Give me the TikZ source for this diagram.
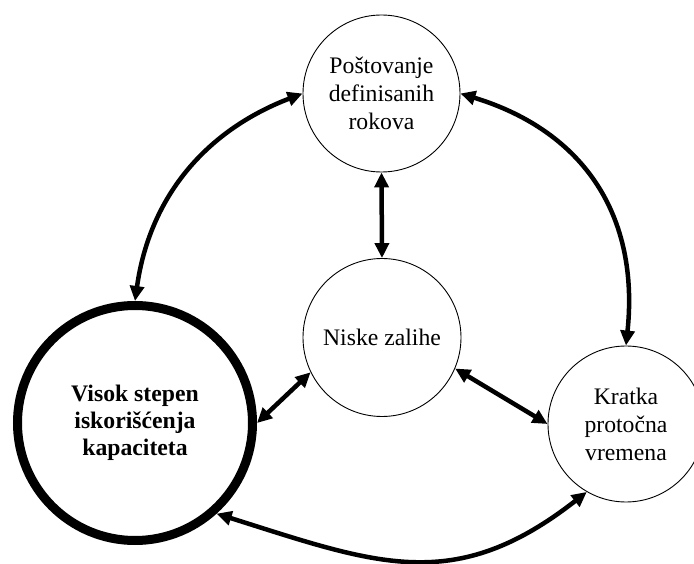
\documentclass[tikz,border=0pt]{standalone}
\usepackage{fontspec}
\setmainfont{Liberation Serif}
\usetikzlibrary{arrows.meta}
\begin{document}
\begin{tikzpicture}[x=1pt,y=1pt,
  goal/.style={circle, draw, line width=0.9pt, minimum size=157pt, inner sep=0pt,
    align=center, font=\fontsize{23.7}{28}\selectfont},
  core/.style={goal, line width=9pt, minimum size=235pt,
    font=\fontsize{23.7}{27}\selectfont\bfseries},
  link/.style={{Triangle[length=15pt,width=14pt]}-{Triangle[length=15pt,width=14pt]},
    line width=4.5pt},
]
\useasboundingbox (0,0) rectangle (694,563);

% the four goals
\node[goal] (T) at (381.5,469.5) {Poštovanje\\definisanih\\rokova};
\node[goal, minimum size=158pt] (M) at (382,225.5) {Niske zalihe};
\node[core] (L) at (135,140) {Visok stepen\\iskorišćenja\\kapaciteta};
\node[goal, minimum size=156pt] (R) at (626,139) {Kratka\\protočna\\vremena};

% mutual links
\draw[link] (L.north) to[out=82, in=201] (T.west);
\draw[link] (T.east) to[out=-17, in=84, looseness=1.1] (R.north);
\draw[link] (L.-48) to[out=-17.5, in=218, looseness=1.16] (R.-120);
\draw[link] (T.south) -- (M.north);
\draw[link] (L.0) -- (M.206);
\draw[link] (M.-23) -- (R.180);
\end{tikzpicture}
\end{document}
